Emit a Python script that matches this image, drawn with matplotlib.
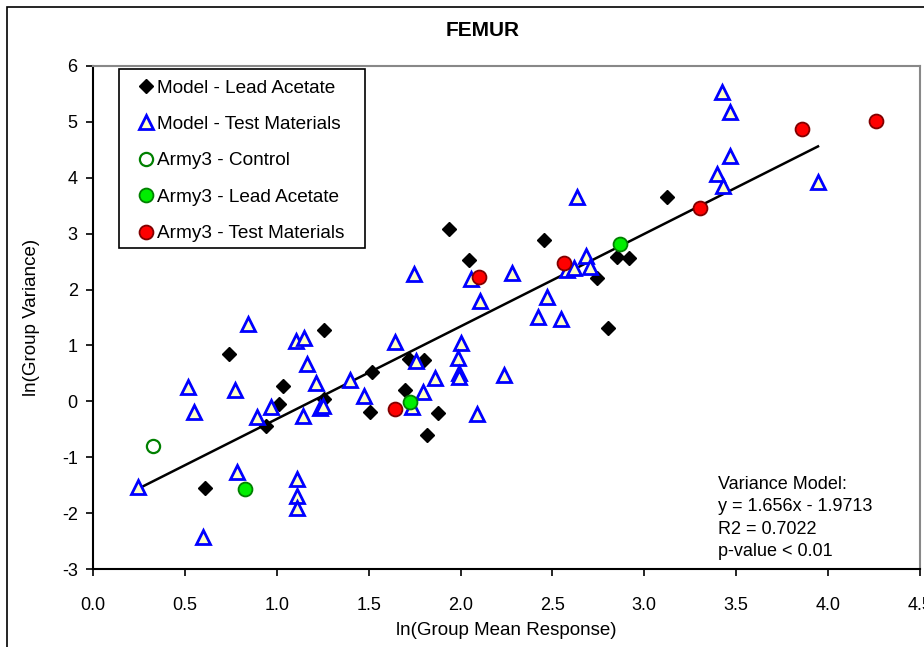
import numpy as np
import matplotlib
matplotlib.use('Agg')
import matplotlib.pyplot as plt

plt.rcParams['font.family'] = ['Liberation Sans', 'DejaVu Sans']
plt.rcParams['axes.unicode_minus'] = False

# Model - Lead Acetate
lead_x = [0.61, 0.74, 0.94, 1.01, 1.035, 1.255, 1.255, 1.52, 1.505, 1.72, 1.80,
          1.70, 1.875, 1.815, 1.935, 2.045, 2.455, 3.125, 2.85, 2.915, 2.74, 2.80]
lead_y = [-1.55, 0.85, -0.44, -0.04, 0.27, 1.28, 0.05, 0.52, -0.19, 0.76, 0.74,
          0.21, -0.20, -0.60, 3.09, 2.53, 2.89, 3.66, 2.59, 2.57, 2.20, 1.32]

# Model - Test Materials
test_x = [0.247, 0.783, 0.597, 1.109, 1.109, 1.109, 0.844, 1.104, 1.149, 0.519,
          0.772, 0.548, 0.891, 0.971, 1.164, 1.213, 1.40, 1.476, 1.233, 1.251,
          1.145, 1.641, 1.759, 1.859, 1.794, 1.736, 2.004, 1.986, 1.99, 1.993,
          2.09, 2.235, 1.745, 2.057, 2.108, 2.28, 2.471, 2.422, 2.544, 2.58,
          2.616, 2.634, 2.68, 2.703, 3.424, 3.466, 3.464, 3.397, 3.43, 3.945]
test_y = [-1.53, -1.27, -2.43, -1.39, -1.69, -1.91, 1.38, 1.08, 1.13, 0.25,
          0.21, -0.19, -0.28, -0.10, 0.67, 0.32, 0.38, 0.10, -0.125, -0.085,
          -0.26, 1.06, 0.73, 0.41, 0.17, -0.11, 1.04, 0.78, 0.50, 0.44,
          -0.23, 0.48, 2.27, 2.19, 1.80, 2.29, 1.86, 1.51, 1.47, 2.35,
          2.38, 3.65, 2.60, 2.40, 5.53, 5.17, 4.39, 4.07, 3.85, 3.93]

# Army3 - Control
ctrl_x = [0.328]
ctrl_y = [-0.80]

# Army3 - Lead Acetate
army_lead_x = [0.828, 1.723, 2.865]
army_lead_y = [-1.56, -0.01, 2.81]

# Army3 - Test Materials
army_test_x = [1.641, 2.102, 2.562, 3.302, 3.856, 4.263]
army_test_y = [-0.13, 2.23, 2.47, 3.46, 4.88, 5.02]

# variance model
slope = 1.656
intercept = -1.9713
model_text = 'Variance Model:\ny = 1.656x - 1.9713\nR2 = 0.7022\np-value < 0.01'

fig = plt.figure(figsize=(9.24, 6.47), dpi=100)
ax = fig.add_axes([93 / 924, 1 - 569 / 647, 827 / 924, 503 / 647])

# outer chart border (cut off at right / bottom)
fig.patches.append(plt.Rectangle((7 / 924, -0.1), 2, 1 - 7 / 647 + 0.1,
                                 transform=fig.transFigure, fill=False,
                                 edgecolor='black', lw=1.2))

ax.plot(lead_x, lead_y, 'D', color='black', markersize=7, label='Model - Lead Acetate',
        zorder=3)
ax.plot(test_x, test_y, '^', markerfacecolor='#FFFFC8', markeredgecolor='#0000FF',
        markeredgewidth=2, markersize=9.5, label='Model - Test Materials', zorder=3)
ax.plot(ctrl_x, ctrl_y, 'o', markerfacecolor='white', markeredgecolor='#008000',
        markeredgewidth=1.6, markersize=9.5, label='Army3 - Control', zorder=4)
ax.plot(army_lead_x, army_lead_y, 'o', markerfacecolor='#00EE00', markeredgecolor='#008000',
        markeredgewidth=1.3, markersize=10, label='Army3 - Lead Acetate', zorder=4)
ax.plot(army_test_x, army_test_y, 'o', markerfacecolor='#FF0000', markeredgecolor='#800000',
        markeredgewidth=1.3, markersize=10, label='Army3 - Test Materials', zorder=4)

xs = np.array([min(test_x), max(test_x)])
ax.plot(xs, slope * xs + intercept, color='black', lw=1.8, zorder=2)

ax.set_xlim(0, 4.5)
ax.set_ylim(-3, 6)
ax.set_xticks(np.arange(0, 4.51, 0.5))
ax.set_xticklabels(['%.1f' % v for v in np.arange(0, 4.51, 0.5)])
ax.set_yticks(range(-3, 7))
ax.tick_params(labelsize=13, length=5, width=1.2, direction='out')
ax.tick_params(axis='x', pad=15)
ax.tick_params(axis='y', pad=6)

for s in ['left', 'bottom']:
    ax.spines[s].set_color('black')
    ax.spines[s].set_linewidth(1.5)
for s in ['top', 'right']:
    ax.spines[s].set_color('#888888')
    ax.spines[s].set_linewidth(1.5)

ax.set_xlabel('ln(Group Mean Response)', fontsize=13.5, labelpad=6)
ax.set_ylabel('ln(Group Variance)', fontsize=13.5, labelpad=16)
fig.text(483 / 924, 1 - 30 / 647, 'FEMUR', fontsize=15, fontweight='bold',
         ha='center', va='center')

ax.text(3.40, -1.33, model_text, fontsize=13, va='top', ha='left', linespacing=1.42)

# legend box drawn separately (Excel style padding)
ax.add_patch(plt.Rectangle((26 / 827, 321 / 503), 246 / 827, 179 / 503,
                           transform=ax.transAxes, facecolor='white',
                           edgecolor='black', lw=1.2, zorder=4.8))
leg = ax.legend(loc='upper left', bbox_to_anchor=(24 / 827, 500 / 503), borderaxespad=0,
                fontsize=13.7, numpoints=1, frameon=False,
                handlelength=2.0, handletextpad=-0.45, labelspacing=1.0,
                borderpad=0.55)
leg.set_zorder(5)

fig.savefig('out.png', dpi=100)
